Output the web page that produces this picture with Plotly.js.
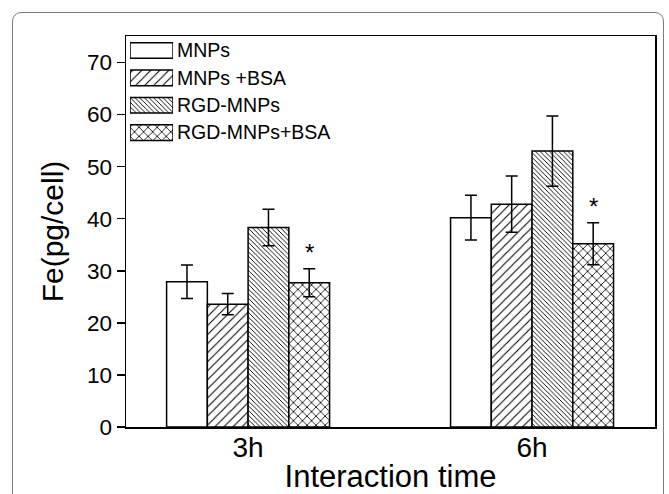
<!DOCTYPE html>
<html><head><meta charset="utf-8">
<script src="https://cdn.plot.ly/plotly-3.0.1.min.js"></script>
<style>
body{margin:0;background:#fff}
#frame{position:absolute;left:12px;top:12px;width:652px;height:510px;border:1.5px solid #7a7a7a;border-radius:9px;pointer-events:none;box-sizing:border-box}
</style>
</head><body>
<div id="chart" style="width:669px;height:494px;"></div>
<div id="frame"></div>
<script>
// ---- data ----
const categories = ['3h', '6h'];
const seriesNames = ['MNPs', 'MNPs +BSA', 'RGD-MNPs', 'RGD-MNPs+BSA'];
const mnps = [27.9, 40.2];
const mnpsErr = [3.2, 4.3];
const mnpsBsa = [23.6, 42.8];
const mnpsBsaErr = [2.05, 5.4];
const rgdMnps = [38.3, 53.0];
const rgdMnpsErr = [3.5, 6.75];
const rgdMnpsBsa = [27.7, 35.2];
const rgdMnpsBsaErr = [2.7, 4.05];
const significanceMarks = ['*', '*'];   // drawn above RGD-MNPs+BSA
const yTickVals = [0, 10, 20, 30, 40, 50, 60, 70];
const xTitle = 'Interaction time';
const yTitle = 'Fe(pg/cell)';

// ---- styles ----
const values = [mnps, mnpsBsa, rgdMnps, rgdMnpsBsa];
const errors = [mnpsErr, mnpsBsaErr, rgdMnpsErr, rgdMnpsBsaErr];
const patterns = [
  {shape: '', size: 8, solidity: 0.2},
  {shape: '/', size: 6.4, solidity: 0.17},
  {shape: '\\', size: 3.3, solidity: 0.28},
  {shape: 'x', size: 6.4, solidity: 0.24}
];
const FONT = 'Liberation Sans, Arial, sans-serif';

function marker(i) {
  return {
    color: 'white',
    line: {color: 'black', width: 1.5},
    pattern: {shape: patterns[i].shape, size: patterns[i].size, solidity: patterns[i].solidity,
              fgcolor: 'black', bgcolor: 'white', fillmode: 'replace'}
  };
}

const traces = values.map((v, i) => ({
  type: 'bar', name: seriesNames[i], x: categories, y: v,
  marker: marker(i),
  error_y: {type: 'data', array: errors[i], visible: true, color: 'black', thickness: 1.5, width: 6},
  showlegend: false, xaxis: 'x', yaxis: 'y'
}));

// legend drawn as a tiny horizontal-bar subplot
seriesNames.forEach((n, i) => {
  traces.push({
    type: 'bar', orientation: 'h', x: [1], y: [n], marker: marker(i), width: [0.57],
    showlegend: false, xaxis: 'x2', yaxis: 'y2', hoverinfo: 'skip'
  });
});

const nGroups = values.length;
const bargap = 0.426;
const barW = (1 - bargap) / nGroups;
const annotations = categories.map((c, k) => ({
  x: k + barW * 1.5, y: rgdMnpsBsa[k] + rgdMnpsBsaErr[k],
  xref: 'x', yref: 'y', text: significanceMarks[k], showarrow: false,
  yanchor: 'bottom', yshift: 1, font: {family: FONT, size: 24, color: 'black'}
}));

const layout = {
  width: 669, height: 494,
  margin: {l: 126, r: 14, t: 36, b: 67},
  paper_bgcolor: 'white', plot_bgcolor: 'rgba(0,0,0,0)',
  barmode: 'group', bargap: bargap, bargroupgap: 0,
  font: {family: FONT, color: 'black'},
  xaxis: {
    type: 'category', range: [-0.43, 1.433], domain: [0, 1],
    showline: true, linecolor: 'black', linewidth: 1.5, mirror: true,
    ticks: '', showgrid: false, zeroline: false,
    tickfont: {family: FONT, size: 28, color: 'black'}, ticklabelstandoff: -5,
    title: {text: xTitle, font: {family: FONT, size: 31, color: 'black'}, standoff: 24},
    automargin: false, fixedrange: true
  },
  yaxis: {
    range: [0, 75.1], tickvals: yTickVals, ticks: 'outside', ticklen: 8, tickwidth: 1.5, tickcolor: 'black',
    showline: true, linecolor: 'black', linewidth: 1.5, mirror: true,
    showgrid: false, zeroline: false,
    tickfont: {family: FONT, size: 22.5, color: 'black'},
    title: {text: yTitle, font: {family: FONT, size: 30, color: 'black'}, standoff: 14},
    automargin: false, fixedrange: true
  },
  xaxis2: {
    anchor: 'y2', domain: [0.0076, 0.0889], range: [0, 1],
    visible: false, fixedrange: true
  },
  yaxis2: {
    anchor: 'x2', domain: [0.718, 0.998], type: 'category', autorange: 'reversed',
    side: 'right', ticks: '', showline: false, showgrid: false, zeroline: false,
    tickfont: {family: FONT, size: 19.5, color: 'black'}, ticklabelstandoff: 3,
    automargin: false, fixedrange: true
  },
  annotations: annotations,
  showlegend: false
};

Plotly.newPlot('chart', traces, layout, {displayModeBar: false, staticPlot: true});
</script>
</body></html>
